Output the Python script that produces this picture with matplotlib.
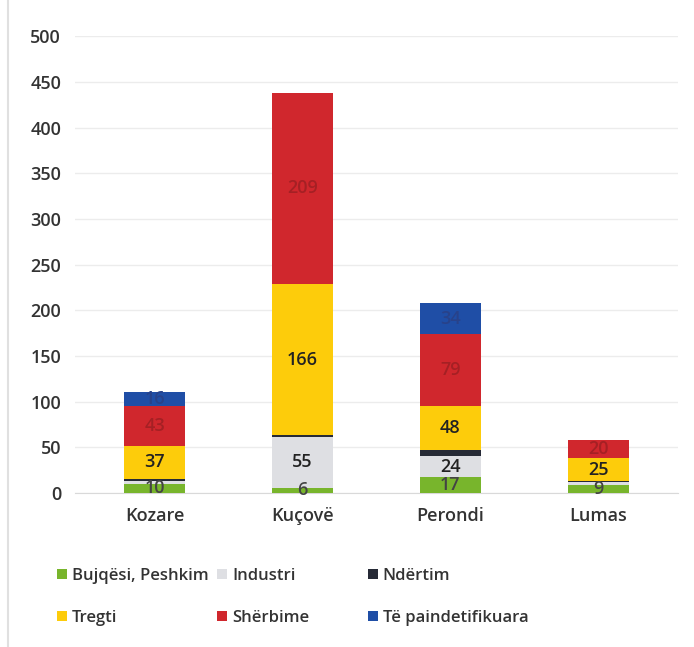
import matplotlib
matplotlib.use("Agg")
import matplotlib.pyplot as plt
from matplotlib.patches import Patch
import numpy as np

plt.rcParams['font.family'] = ['Open Sans', 'DejaVu Sans']
plt.rcParams['font.weight'] = 'semibold'

categories = ["Kozare", "Kuçovë", "Perondi", "Lumas"]
series_names = ["Bujqësi, Peshkim", "Industri", "Ndërtim", "Tregti", "Shërbime", "Të paindetifikuara"]
bujqesi = [10, 6, 17, 9]
industri = [3, 55, 24, 3]
ndertim = [2, 2, 6, 1]
tregti = [37, 166, 48, 25]
sherbime = [43, 209, 79, 20]
paidentifikuara = [16, 0, 34, 0]
# which segments show a value label
show_label = {
    "Bujqësi, Peshkim": [True, True, True, True],
    "Industri": [False, True, True, False],
    "Ndërtim": [False, False, False, False],
    "Tregti": [True, True, True, True],
    "Shërbime": [True, True, True, True],
    "Të paindetifikuara": [True, False, True, False],
}

values = [bujqesi, industri, ndertim, tregti, sherbime, paidentifikuara]
colors = ["#78b52c", "#dedfe3", "#262a36", "#fdcc0b", "#d0272d", "#1f4ea6"]
label_colors = ["#444444", "#222222", "#222222", "#222222", "#a52024", "#28428a"]

FS = 13

fig = plt.figure(figsize=(6.94, 6.47), dpi=100)
ax = fig.add_axes([0.108, 0.238, 0.869, 0.706])

x = np.arange(len(categories))
width = 0.41
bottom = np.zeros(len(categories))
for name, vals, c, lc in zip(series_names, values, colors, label_colors):
    vals = np.array(vals, dtype=float)
    ax.bar(x, vals, width, bottom=bottom, color=c, edgecolor='none', zorder=3)
    for i, v in enumerate(vals):
        if v > 0 and show_label[name][i]:
            ax.text(x[i], bottom[i] + v / 2, f"{int(v)}", ha='center', va='center',
                    fontsize=FS, color=lc, zorder=4, fontweight='semibold')
    bottom += vals

ax.set_xlim(-0.54, 3.54)
ax.set_ylim(0, 500)
ax.set_yticks(np.arange(0, 501, 50))
ax.set_xticks(x)
ax.set_xticklabels(categories)
ax.tick_params(axis='both', length=0, labelsize=FS, labelcolor='#333333')
ax.tick_params(axis='y', pad=10)
ax.tick_params(axis='x', pad=10)
for lab in ax.get_yticklabels() + ax.get_xticklabels():
    lab.set_fontweight('semibold')
ax.grid(axis='y', color='#ececec', linewidth=1, zorder=0)
for s in ['top', 'right', 'left']:
    ax.spines[s].set_visible(False)
ax.spines['bottom'].set_color('#d9d9d9')

# legends in three columns
cols = [(0, 3), (1, 4), (2, 5)]
xs = [0.082, 0.313, 0.53]
for (a, b), xp in zip(cols, xs):
    handles = [Patch(facecolor=colors[a]), Patch(facecolor=colors[b])]
    lg = fig.legend(handles, [series_names[a], series_names[b]], loc='upper left',
                    bbox_to_anchor=(xp, 0.122), frameon=False, fontsize=12,
                    handlelength=0.6, handleheight=0.6, handletextpad=0.3,
                    labelspacing=1.55, borderaxespad=0, borderpad=0)
    for t in lg.get_texts():
        t.set_color('#333333')
        t.set_fontweight('semibold')

# faint frame line at left
fig.add_artist(plt.Line2D([0.012, 0.012], [0.0, 1.0], color='#e0e0e0', lw=1.5,
                          transform=fig.transFigure))

fig.savefig("out.png", dpi=100)
